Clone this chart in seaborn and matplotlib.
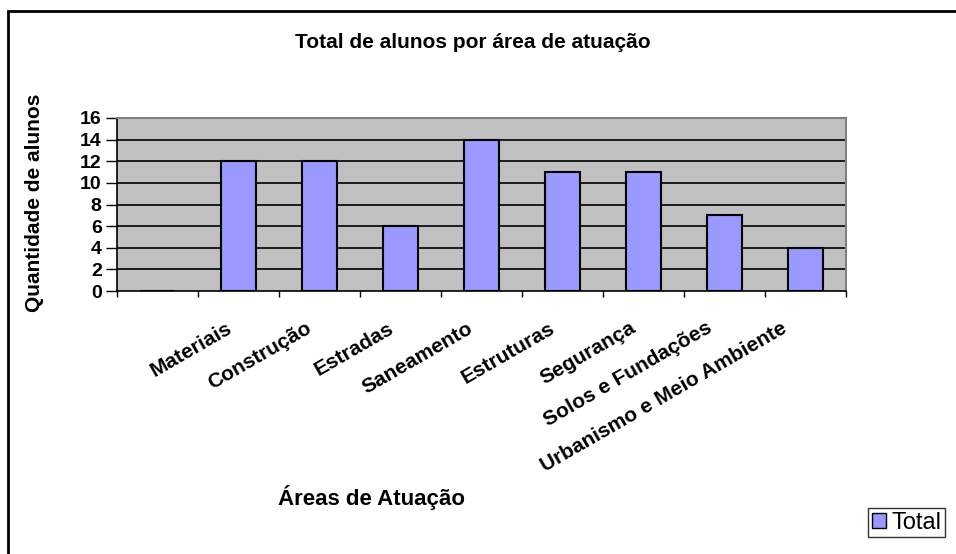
import matplotlib
matplotlib.use("Agg")
import matplotlib.pyplot as plt
import matplotlib.transforms as mtransforms
from matplotlib.patches import Rectangle, Patch
import seaborn as sns
import pandas as pd

categories = ["", "Materiais", "Construção", "Estradas", "Saneamento", "Estruturas",
              "Segurança", "Solos e Fundações", "Urbanismo e Meio Ambiente"]
values = [0, 12, 12, 6, 14, 11, 11, 7, 4]
yticks = [0, 2, 4, 6, 8, 10, 12, 14, 16]

title = "Total de alunos por área de atuação"
xlabel = "Áreas de Atuação"
ylabel = "Quantidade de alunos"
series_name = "Total"

sns.set_theme(style="white")
plt.rcParams["font.family"] = ["Liberation Sans", "DejaVu Sans"]
plt.rcParams["text.color"] = "black"
plt.rcParams["xtick.color"] = "black"
plt.rcParams["ytick.color"] = "black"
plt.rcParams["axes.labelcolor"] = "black"

W, H = 956, 554
fig = plt.figure(figsize=(W / 100, H / 100), dpi=100)
ax = fig.add_axes([117 / W, 1 - 291 / H, (846 - 117) / W, (291 - 118) / H])

df = pd.DataFrame({"cat": categories, "val": values})
sns.barplot(data=df, x="cat", y="val", ax=ax, color="#9999FF", saturation=1,
            width=0.42, edgecolor="black", linewidth=1.5, zorder=3)

ax.set_facecolor("#C0C0C0")
ax.set_ylim(0, 16)
ax.set_xlim(-0.5, len(categories) - 0.5)
ax.set_yticks(yticks)
ax.set_yticklabels([str(t) for t in yticks], fontsize=14, fontweight="bold")
for t in yticks[1:]:
    ax.axhline(t, color="black", linewidth=1.2, zorder=1)

ax.set_xticks(range(len(categories)))
ax.set_xticklabels(categories, fontsize=15, fontweight="bold", rotation=30,
                   ha="right", va="top", rotation_mode="anchor")
ax.set_xticks([i - 0.5 for i in range(len(categories) + 1)], minor=True)
ax.tick_params(axis="x", which="major", length=0, pad=14)
ax.tick_params(axis="x", which="minor", length=4.5, width=1, color="black", direction="out", bottom=True)
ax.tick_params(axis="y", length=8, width=1, color="black", direction="out", left=True, pad=3)

for side in ["top", "right"]:
    ax.spines[side].set_color("#808080")
    ax.spines[side].set_linewidth(1.5)
    ax.spines[side].set_visible(True)
for side in ["left", "bottom"]:
    ax.spines[side].set_color("black")
    ax.spines[side].set_linewidth(1.2)
    ax.spines[side].set_visible(True)

ax.set_xlabel("")
ax.set_ylabel("")

# shift rotated labels left a little more for longer labels (Excel-like placement)
fig.canvas.draw()
renderer = fig.canvas.get_renderer()
for lab in ax.get_xticklabels():
    w = lab.get_window_extent(renderer).width if lab.get_text() else 0
    dx = -13 - 0.073 * max(w - 90, 0)
    off = mtransforms.ScaledTranslation(dx / 100, -8 / 100, fig.dpi_scale_trans)
    lab.set_transform(lab.get_transform() + off)

fig.text(473 / W, 1 - 43 / H, title, ha="center", va="center", fontsize=15, fontweight="bold")
fig.text(35 / W, 1 - 203 / H, ylabel, ha="center", va="center", rotation=90,
         fontsize=15, fontweight="bold")
fig.text(372 / W, 1 - 497 / H, xlabel, ha="center", va="center", fontsize=16, fontweight="bold")

fig.add_artist(Rectangle((8 / W, -0.05), 1.1, 1 - 11 / H + 0.05, transform=fig.transFigure,
                         fill=False, edgecolor="black", linewidth=2))

leg = fig.legend(handles=[Patch(facecolor="#9999FF", edgecolor="black", linewidth=1, label=series_name)],
                 loc="upper left", bbox_to_anchor=(868 / W, 1 - 508 / H), fontsize=17,
                 frameon=True, fancybox=False, handlelength=0.6, handleheight=0.6,
                 handletextpad=0.25, borderpad=0.15, borderaxespad=0)
leg.get_frame().set_edgecolor("black")
leg.get_frame().set_linewidth(1)

fig.savefig("out.png", dpi=100)
